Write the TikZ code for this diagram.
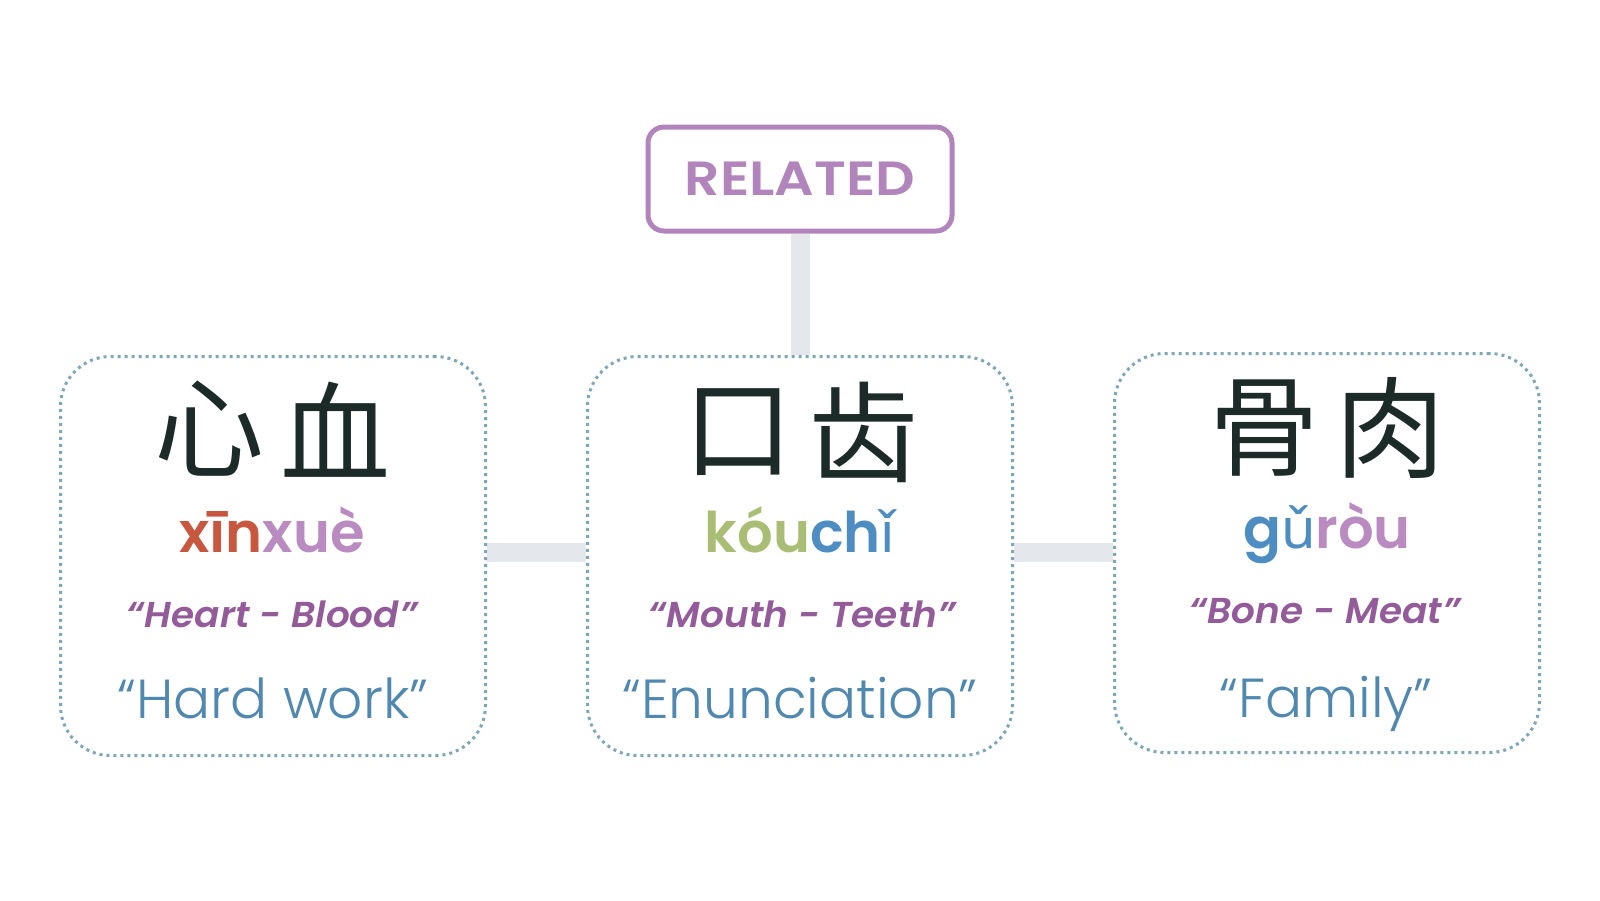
\documentclass[tikz,border=0pt]{standalone}
\usepackage{fontspec}
\usetikzlibrary{backgrounds}
\newfontfamily\cjk{Noto Sans CJK SC}
\newfontfamily\popsb{Poppins SemiBold}
\newfontfamily\relfont{Poppins SemiBold}[FakeStretch=1.15]
\newfontfamily\popsbit{Poppins SemiBold Italic}[FakeStretch=1.04]
\newfontfamily\poplt{Poppins Light}
\newfontfamily\notos{Noto Sans}
\newcommand\fb[1]{{\notos\bfseries #1}}
\definecolor{relc}{HTML}{B185BB}
\definecolor{dotc}{HTML}{7FA6B5}
\definecolor{connc}{HTML}{E4E7EB}
\definecolor{inkc}{HTML}{1C2B28}
\definecolor{redc}{HTML}{C7573E}
\definecolor{lilac}{HTML}{B98BC1}
\definecolor{olive}{HTML}{A9BE74}
\definecolor{bluec}{HTML}{4E8DC1}
\definecolor{plum}{HTML}{935B9A}
\definecolor{steel}{HTML}{5088AF}
\tikzset{
  conn/.style={line width=19pt, draw=connc},
  card/.style={draw=dotc, line width=3pt, dash pattern=on 3pt off 4pt,
    rounded corners=50pt, fill=white, minimum width=425pt, minimum height=399pt},
  relbox/.style={draw=relc, line width=5pt, rounded corners=16pt, fill=white,
    minimum width=304pt, minimum height=104pt, text=relc,
    font=\relfont\fontsize{48}{50}\selectfont},
  hanzi/.style={text=inkc, font=\cjk\fontsize{110}{110}\selectfont, inner sep=0pt},
  pinyin/.style={anchor=base, inner sep=0pt, font=\popsb\fontsize{56}{60}\selectfont},
  gloss/.style={anchor=base, inner sep=0pt, text=plum, font=\popsbit\fontsize{36}{40}\selectfont},
  meaning/.style={anchor=base, inner sep=0pt, text=steel, font=\poplt\fontsize{55}{60}\selectfont}
}
\begin{document}
\begin{tikzpicture}[x=1pt,y=-1pt]
\useasboundingbox (0,0) rectangle (1600,900);
% nodes
\node[relbox] (rel) at (800,179) {RELATED};
\node[card] (c1) at (273,556) {};
\node[card] (c2) at (800,556) {};
\node[card] (c3) at (1327,553) {};
% connectors (behind cards)
\begin{scope}[on background layer]
\fill[white] (0,0) rectangle (1600,900);
\draw[conn] (rel.south) -- (c2.north);
\draw[conn] (c1.east |- 0,552) -- (c2.west |- 0,552);
\draw[conn] (c2.east |- 0,552) -- (c3.west |- 0,552);
\end{scope}
% card 1
\node[hanzi] (h1a) at (209,429) {心};
\node[hanzi] (h1b) at (335,430) {血};
\node[pinyin] (p1) at (272,552) {\textcolor{redc}{xīn}\textcolor{lilac}{xuè}};
\node[gloss] (g1) at (272,627) {“Heart - Blood”};
\node[meaning] (m1) at (273,718) {“Hard work”};
% card 2
\node[hanzi] (h2a) at (738,432) {口};
\node[hanzi] (h2b) at (863,432) {齿};
\node[pinyin] (p2) at (800,552) {\textcolor{olive}{kóu}\textcolor{bluec}{ch\fb{ǐ}}};
\node[gloss] (g2) at (802,627) {“Mouth - Teeth”};
\node[meaning] (m2) at (800,718) {“Enunciation”};
% card 3
\node[hanzi] (h3a) at (1264,428) {骨};
\node[hanzi] (h3b) at (1390,428) {肉};
\node[pinyin] (p3) at (1327,548) {\textcolor{bluec}{g\fb{ǔ}}\textcolor{lilac}{ròu}};
\node[gloss] (g3) at (1325,623) {“Bone - Meat”};
\node[meaning] (m3) at (1326,717) {“Family”};
\end{tikzpicture}
\end{document}
